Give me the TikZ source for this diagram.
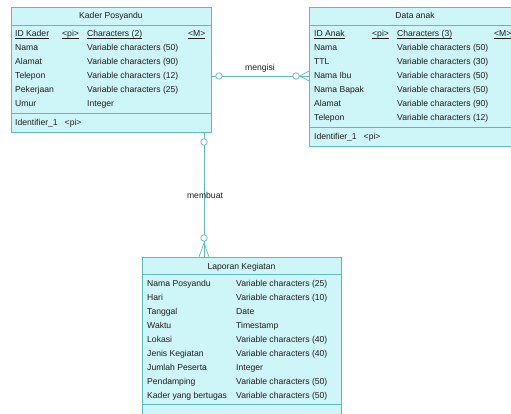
\documentclass[tikz,border=0pt]{standalone}
\usepackage{fontspec}
\setmainfont{Liberation Sans}
\definecolor{edgec}{RGB}{92,186,192}
\definecolor{boxfill}{RGB}{206,245,248}
\definecolor{txt}{RGB}{30,30,30}
\newcommand\myul[1]{{\setbox0\hbox{#1}\rlap{\rule[-1.3pt]{\wd0}{0.5pt}}\box0}}
\begin{document}
\begin{tikzpicture}[x=1pt,y=-1pt,
  ent/.style={draw=edgec, fill=boxfill, line width=0.7pt, inner sep=0pt, anchor=north west},
  sepline/.style={draw=edgec, line width=0.7pt},
  t/.style={anchor=base west, inner sep=0pt, font=\fontsize{8.6}{10}\selectfont, text=txt},
  ttl/.style={anchor=base, inner sep=0pt, font=\fontsize{8.6}{10}\selectfont, text=txt},
  conn/.style={draw=edgec, line width=0.7pt},
  opt/.style={circle, draw=edgec, fill=white, line width=0.7pt, inner sep=0pt, minimum size=6.5pt}]
\clip (0,0) rectangle (511,414);
\fill[white] (0,0) rectangle (511,414);

% ---------- Kader Posyandu ----------
\node[ent, minimum width=200pt, minimum height=125pt] (kader) at (11,7) {};
\draw[sepline] (11,25) -- (211,25);
\draw[sepline] (11,113) -- (211,113);
\node[ttl] (kt) at (111,19) {Kader Posyandu};
\node[t] (k1a) at (15,37) {\myul{ID Kader}};
\node[t] (k1b) at (62,37) {\myul{<pi>}};
\node[t] (k1c) at (87,37) {\myul{Characters (2)}};
\node[t] (k1d) at (188,37) {\myul{<M>}};
\node[t] (k2a) at (15,51) {Nama};
\node[t] (k2c) at (87,51) {Variable characters (50)};
\node[t] (k3a) at (15,65) {Alamat};
\node[t] (k3c) at (87,65) {Variable characters (90)};
\node[t] (k4a) at (15,79) {Telepon};
\node[t] (k4c) at (87,79) {Variable characters (12)};
\node[t] (k5a) at (15,93) {Pekerjaan};
\node[t] (k5c) at (87,93) {Variable characters (25)};
\node[t] (k6a) at (15,107) {Umur};
\node[t] (k6c) at (87,107) {Integer};
\node[t] (kid) at (15,126) {Identifier\_1\hspace{7pt}<pi>};

% ---------- Data anak ----------
\node[ent, minimum width=212pt, minimum height=139pt] (anak) at (309,7) {};
\draw[sepline] (309,25) -- (521,25);
\draw[sepline] (309,127) -- (521,127);
\node[ttl] (at) at (415,19) {Data anak};
\node[t] (a1a) at (314,37) {\myul{ID Anak}};
\node[t] (a1b) at (372,37) {\myul{<pi>}};
\node[t] (a1c) at (397,37) {\myul{Characters (3)}};
\node[t] (a1d) at (494,37) {\myul{<M>}};
\node[t] (a2a) at (314,51) {Nama};
\node[t] (a2c) at (397,51) {Variable characters (50)};
\node[t] (a3a) at (314,65) {TTL};
\node[t] (a3c) at (397,65) {Variable characters (30)};
\node[t] (a4a) at (314,79) {Nama Ibu};
\node[t] (a4c) at (397,79) {Variable characters (50)};
\node[t] (a5a) at (314,93) {Nama Bapak};
\node[t] (a5c) at (397,93) {Variable characters (50)};
\node[t] (a6a) at (314,107) {Alamat};
\node[t] (a6c) at (397,107) {Variable characters (90)};
\node[t] (a7a) at (314,121) {Telepon};
\node[t] (a7c) at (397,121) {Variable characters (12)};
\node[t] (aid) at (314,140) {Identifier\_1\hspace{7pt}<pi>};

% ---------- Laporan Kegiatan ----------
\node[ent, minimum width=199pt, minimum height=170pt] (lap) at (142,257) {};
\draw[sepline] (142,274) -- (341,274);
\draw[sepline] (142,404) -- (341,404);
\node[ttl] (lt) at (241.5,269) {Laporan Kegiatan};
\node[t] (l1a) at (147,286) {Nama Posyandu};
\node[t] (l1c) at (236,286) {Variable characters (25)};
\node[t] (l2a) at (147,300) {Hari};
\node[t] (l2c) at (236,300) {Variable characters (10)};
\node[t] (l3a) at (147,314) {Tanggal};
\node[t] (l3c) at (236,314) {Date};
\node[t] (l4a) at (147,328) {Waktu};
\node[t] (l4c) at (236,328) {Timestamp};
\node[t] (l5a) at (147,342) {Lokasi};
\node[t] (l5c) at (236,342) {Variable characters (40)};
\node[t] (l6a) at (147,356) {Jenis Kegiatan};
\node[t] (l6c) at (236,356) {Variable characters (40)};
\node[t] (l7a) at (147,370) {Jumlah Peserta};
\node[t] (l7c) at (236,370) {Integer};
\node[t] (l8a) at (147,384) {Pendamping};
\node[t] (l8c) at (236,384) {Variable characters (50)};
\node[t] (l9a) at (147,398) {Kader yang bertugas};
\node[t] (l9c) at (236,398) {Variable characters (50)};

% ---------- mengisi ----------
\coordinate (mx) at (0,76);
\draw[conn] (kader.east |- mx) -- (anak.west |- mx);
\node[opt] (mo1) at (219,76) {};
\node[opt] (mo2) at (296,76) {};
\coordinate (mf) at (300,76);
\draw[conn] (mf) -- (309,71) (mf) -- (309,81);
\node[ttl] (ml) at (260,71) {mengisi};

% ---------- membuat ----------
\coordinate (bx) at (204,0);
\draw[conn] (kader.south -| bx) -- (lap.north -| bx);
\node[opt] (bo1) at (204,142) {};
\node[opt] (bo2) at (204,238) {};
\coordinate (bf) at (204,243);
\draw[conn] (bf) -- (199,257) (bf) -- (209,257);
\node[ttl] (bl) at (205,198) {membuat};
\end{tikzpicture}
\end{document}
